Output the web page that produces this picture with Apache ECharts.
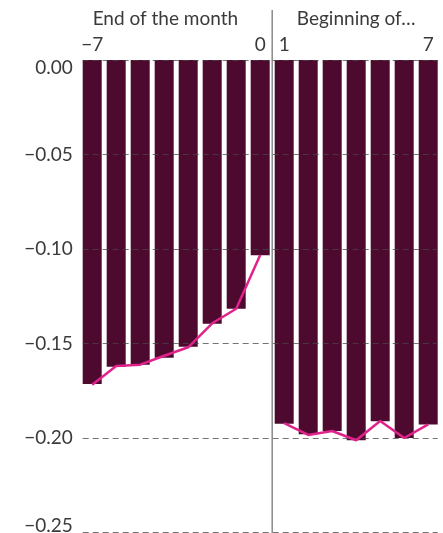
<!DOCTYPE html>
<html>
<head>
<meta charset="utf-8">
<style>
  html, body { margin: 0; padding: 0; background: #ffffff; }
  #chart { width: 443px; height: 533px; }
</style>
<script src="https://cdn.jsdelivr.net/npm/echarts@6/dist/echarts.min.js"></script>
</head>
<body>
<div id="chart"></div>
<script>
// ---- data ----
const days = [-7, -6, -5, -4, -3, -2, -1, 0, 1, 2, 3, 4, 5, 6, 7];
const barValues = [-0.1714, -0.1623, -0.1612, -0.1575, -0.1517, -0.1395, -0.1316, -0.1033,
                   -0.1924, -0.1980, -0.1963, -0.2012, -0.1912, -0.2000, -0.1928];
const lineValuesEnd = [-0.1718, -0.1619, -0.1612, -0.1565, -0.1520, -0.1393, -0.1316, -0.1032];
const lineValuesBeginning = [-0.1921, -0.1984, -0.1963, -0.2012, -0.1910, -0.2000, -0.1928];
const xTickLabels = [-7, 0, 1, 7];
const groupLabels = ['End of the month', 'Beginning of…'];

// ---- styles ----
const FONT = 'Lato, "Open Sans", sans-serif';
const TEXT = '#3a3a3a';
const BAR = '#4d0a2e';
const LINE = '#e0228b';

const endDays = days.filter(d => d <= 0);
const beginDays = days.filter(d => d >= 1);

function fmtY(v) {
  const s = Math.abs(v).toFixed(2);
  return (v < -1e-9 ? '\u2212' : '') + s;
}
function fmtX(v) {
  const r = Math.round(v);
  return (r < 0 ? '\u2212' : '') + Math.abs(r);
}

const chart = echarts.init(document.getElementById('chart'), null, { renderer: 'canvas' });

const halfBar = 9.5 / 24;

chart.setOption({
  animation: false,
  backgroundColor: '#ffffff',
  grid: { left: 82.7, right: 5.3, top: 60, bottom: 0.5, containLabel: false, outerBoundsMode: 'none' },
  xAxis: {
    type: 'value',
    position: 'top',
    min: days[0] - halfBar,
    max: days[days.length - 1] + halfBar,
    axisLine: { show: false },
    axisTick: { show: false },
    splitLine: { show: false },
    axisLabel: {
      customValues: xTickLabels,
      formatter: v => fmtX(v),
      color: TEXT,
      fontFamily: FONT,
      fontSize: 19,
      margin: 6
    }
  },
  yAxis: {
    type: 'value',
    min: -0.25,
    max: 0,
    interval: 0.05,
    z: 3,
    axisLine: { show: false },
    axisTick: { show: false },
    splitLine: {
      show: true,
      lineStyle: { color: 'rgba(70,70,70,0.75)', type: [6, 4], width: 1 }
    },
    axisLabel: {
      color: TEXT,
      fontFamily: FONT,
      fontSize: 19,
      margin: 10,
      formatter: v => {
        if (Math.abs(v) < 1e-9) return '{t|' + fmtY(v) + '}';
        if (Math.abs(v + 0.25) < 1e-9) return '{b|' + fmtY(v) + '}';
        return fmtY(v);
      },
      rich: {
        t: { fontFamily: FONT, fontSize: 19, color: TEXT, padding: [16, 0, 0, 0] },
        b: { fontFamily: FONT, fontSize: 19, color: TEXT, padding: [0, 0, 14, 0] }
      }
    }
  },
  series: [
    {
      type: 'bar',
      data: days.map((d, i) => [d, barValues[i]]),
      barWidth: 19,
      itemStyle: { color: BAR },
      z: 2
    },
    {
      type: 'line',
      data: endDays.map((d, i) => [d, lineValuesEnd[i]]),
      symbol: 'none',
      lineStyle: { color: LINE, width: 2.5 },
      z: 5
    },
    {
      type: 'line',
      data: beginDays.map((d, i) => [d, lineValuesBeginning[i]]),
      symbol: 'none',
      lineStyle: { color: LINE, width: 2.5 },
      z: 5
    }
  ]
});

// decorations: divider and group headers, placed via axis scale
const xDiv = chart.convertToPixel({ xAxisIndex: 0 }, 0.5);
const xEndCenter = chart.convertToPixel({ xAxisIndex: 0 }, -3.95);
const xBegCenter = chart.convertToPixel({ xAxisIndex: 0 }, 4);
chart.setOption({
  graphic: [
    {
      type: 'line',
      shape: { x1: xDiv, y1: 10, x2: xDiv, y2: 533 },
      style: { stroke: '#8a8a8a', lineWidth: 1.5 },
      z: 10
    },
    {
      type: 'text',
      x: xEndCenter, y: 18.5,
      style: { text: groupLabels[0], fill: TEXT, font: '19px ' + FONT, align: 'center', verticalAlign: 'middle' },
      z: 10
    },
    {
      type: 'text',
      x: xBegCenter, y: 18.5,
      style: { text: groupLabels[1], fill: TEXT, font: '19px ' + FONT, align: 'center', verticalAlign: 'middle' },
      z: 10
    }
  ]
});
</script>
</body>
</html>
